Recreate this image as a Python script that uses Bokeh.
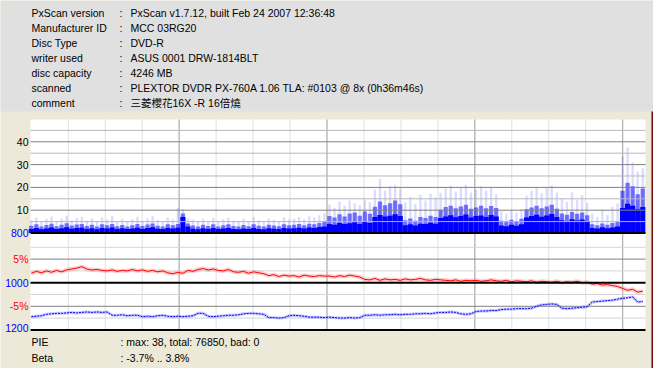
from bokeh.plotting import figure
from bokeh.models import Range1d, Label, BoxAnnotation, ColumnDataSource
from bokeh.embed import file_html
from bokeh.resources import INLINE

# ---------------- data ----------------
header_keys = ["PxScan version", "Manufacturer ID", "Disc Type", "writer used",
               "disc capacity", "scanned", "comment"]
header_vals = ["PxScan v1.7.12, built Feb 24 2007 12:36:48", "MCC 03RG20", "DVD-R",
               "ASUS 0001 DRW-1814BLT", "4246 MB",
               "PLEXTOR DVDR PX-760A 1.06 TLA: #0103 @ 8x (0h36m46s)",
               "三菱櫻花16X -R  16倍燒"]
footer_keys = ["PIE", "Beta"]
footer_vals = [": max: 38, total: 76850, bad: 0", ": -3.7% .. 3.8%"]

# sample positions along the disc (MB)
pos_mb = list(range(0, 4236, 35))

# PIE: solid core level, medium-density level, peak level
pie_core = [1.8, 2.2, 1.6, 2.0, 2.4, 1.7, 2.1, 2.5, 1.9, 2.2,
            2.3, 1.8, 2.1, 1.6, 2.2, 2.0, 2.4, 1.8, 2.1, 1.7,
            2.0, 2.3, 1.8, 2.2, 2.5, 1.9, 1.7, 2.2, 2.0, 2.3,
            7.0, 2.8,
            1.9, 1.6, 2.1, 1.8, 2.2, 1.7, 2.0, 2.2, 1.8, 1.6,
            2.0, 1.7, 2.2, 1.8, 1.6, 2.1, 1.9, 1.7, 2.2, 2.0,
            2.1, 2.3, 2.0, 2.4, 2.2, 2.6, 2.9,
            4.0, 3.6, 4.4, 3.9, 4.3, 4.7, 4.0, 4.9, 4.4,
            7.0, 7.9, 7.2, 7.6, 8.2, 7.4,
            3.4, 3.8, 3.3, 4.1, 3.9, 4.5, 4.1,
            6.6, 7.2, 7.8, 6.9, 7.5, 8.1, 6.8, 7.4, 7.7, 7.0, 7.9, 7.2,
            3.3, 3.0, 3.6, 3.2, 3.8,
            6.8, 7.4, 8.0, 7.1, 7.7, 8.3, 7.0,
            5.6, 5.2, 6.0, 5.5, 5.9, 5.1,
            2.2, 2.0, 2.5, 2.1, 2.4, 2.9,
            11.0, 12.8, 12.0, 10.4, 11.4]
pie_mid = [3.2, 3.8, 2.9, 3.5, 4.1, 3.0, 3.6, 4.3, 3.3, 3.7,
           3.9, 3.1, 3.6, 2.8, 3.8, 3.4, 4.0, 3.0, 3.5, 2.9,
           3.4, 3.9, 3.1, 3.7, 4.2, 3.2, 2.9, 3.8, 3.4, 3.9,
           8.5, 4.2,
           3.3, 2.8, 3.6, 3.1, 3.8, 2.9, 3.4, 3.8, 3.1, 2.8,
           3.5, 3.0, 3.8, 3.2, 2.8, 3.6, 3.3, 3.0, 3.8, 3.4,
           3.6, 3.9, 3.4, 4.1, 3.8, 4.4, 5.0,
           7.5, 6.8, 8.2, 7.2, 8.6, 9.0, 7.6, 9.4, 8.4,
           11.5, 13.8, 12.2, 13.0, 14.2, 12.6,
           5.6, 6.4, 5.4, 7.0, 6.6, 7.6, 7.0,
           10.2, 11.4, 12.0, 10.8, 11.6, 12.4, 10.6, 11.2, 12.0, 10.9, 11.8, 11.0,
           5.4, 4.9, 5.8, 5.2, 6.2,
           10.4, 11.2, 12.0, 10.8, 11.6, 12.4, 10.6,
           8.6, 8.0, 9.2, 8.4, 9.0, 7.8,
           3.8, 3.4, 4.2, 3.6, 4.4, 5.0,
           18.5, 22.0, 20.5, 17.0, 19.5]
pie_peak = [5.5, 6.8, 4.9, 6.2, 7.2, 5.1, 6.4, 7.6, 5.6, 6.6,
            7.0, 5.4, 6.3, 4.8, 6.9, 5.9, 7.4, 5.2, 6.2, 5.0,
            6.0, 7.1, 5.3, 6.5, 7.6, 5.6, 5.0, 6.8, 6.0, 11.0,
            10.5, 6.4,
            5.8, 4.8, 6.3, 5.4, 6.7, 5.0, 6.0, 6.8, 5.5, 4.9,
            6.2, 5.2, 6.9, 5.6, 4.8, 6.4, 5.8, 5.2, 6.9, 6.0,
            6.3, 7.0, 6.0, 7.3, 6.8, 7.8, 8.5,
            12.5, 11.0, 13.8, 12.0, 14.2, 13.0, 12.2, 14.8, 13.5,
            19.0, 23.8, 18.5, 20.5, 21.0, 19.5,
            13.5, 15.8, 12.6, 16.8, 14.2, 17.2, 15.6,
            17.5, 19.5, 20.8, 18.2, 19.8, 21.2, 17.8, 19.0, 20.5, 18.6, 20.2, 17.0,
            9.5, 8.4, 10.2, 9.0, 10.5,
            16.5, 18.5, 20.2, 17.4, 19.6, 20.8, 17.8,
            15.2, 13.6, 17.8, 14.4, 16.6, 13.2,
            8.5, 7.0, 10.2, 8.0, 11.5, 13.0,
            33.5, 37.5, 31.0, 27.0, 28.5]

# Beta (%)
beta = [2.0, 2.4, 2.1, 2.5, 2.2, 2.6, 2.3,
        2.7, 2.9, 3.1, 3.4,
        2.9, 2.7, 2.8, 2.6, 2.5, 2.7,
        2.4, 2.6, 2.5,
        2.8, 2.5, 2.7, 2.4, 2.6, 2.3, 2.5,
        2.1, 1.9, 2.2, 2.0,
        2.6, 2.4, 2.8, 3.0, 2.7, 2.9, 2.6, 2.5, 2.8, 2.3,
        2.2, 2.4, 2.0, 2.3, 2.1, 1.9,
        1.5, 1.7, 1.3, 1.6, 1.4, 1.5, 1.2, 1.6, 1.4, 1.3, 1.5, 1.4,
        1.4, 1.2, 1.5, 1.3, 1.6, 1.4, 1.2,
        0.7, 0.6, 0.9, 0.5, 0.8, 0.6, 0.7, 0.5, 0.8, 0.6, 0.7, 0.9, 0.6, 0.5, 0.7, 0.6,
        0.5, 0.4, 0.6, 0.3, 0.5, 0.4, 0.5, 0.3, 0.4, 0.6, 0.4, 0.3, 0.5, 0.2, 0.4,
        0.3, 0.2, 0.4, 0.1, 0.3, 0.2, 0.1, 0.3, 0.0, 0.2, 0.1, 0.3, 0.0, 0.1,
        -0.3, -0.2, -0.5, -0.4, -0.6, -0.8,
        -1.2, -1.6, -1.4, -2.0, -1.8]
# Jitter trace (%)
jitter = [-7.2, -7.1, -7.0,
          -6.7, -6.6, -6.5, -6.5, -6.4,
          -6.3, -6.4, -6.3, -6.2, -6.3, -6.2, -6.3, -6.2,
          -6.9, -6.9, -6.8, -7.0, -6.9, -6.9,
          -7.2, -7.1, -7.2, -7.0, -6.9, -7.1, -7.2, -7.1, -7.2, -7.1, -7.0,
          -6.5, -6.5,
          -7.1, -7.2, -7.1, -7.0, -6.9, -6.9,
          -6.8, -6.6, -6.5, -6.5, -6.6, -6.7,
          -7.4, -7.4, -7.5, -7.4,
          -7.0, -6.9, -7.0, -7.1,
          -7.3, -7.3, -7.3, -7.4, -7.3, -7.4, -7.5, -7.5, -7.4, -7.5, -7.4,
          -6.9, -6.9, -6.8, -6.9, -6.8, -6.8, -6.7, -6.8, -6.7, -6.7, -6.6, -6.6, -6.5, -6.6,
          -6.4, -6.3, -6.3, -6.2, -6.3,
          -6.6, -6.7, -6.6,
          -6.1, -6.0, -6.0, -5.9, -5.9,
          -5.7, -5.6, -5.6, -5.5, -5.5, -5.5, -5.4,
          -5.0, -4.7, -4.6, -4.5, -4.6,
          -5.4, -5.5, -5.4, -5.3, -5.2, -5.1,
          -4.1, -4.0, -3.9, -3.8, -3.7, -3.5,
          -3.3, -3.2, -3.0,
          -4.1, -4.0]

# axis label texts / grid values
pie_tick_vals = [10, 20, 30, 40]
pie_minor_vals = [5, 15, 25, 35, 45]
beta_tick_vals = [5, -5]
beta_minor_vals = [7.5, 2.5, -2.5, -7.5]
blue_tick_text = ["800", "1000", "1200"]
x_grid_mb = [256 * k for k in range(1, 17)]
x_major_mb = [1024, 2048, 3072, 4096]

# ---------------- styles / layout ----------------
FONT = "Liberation Sans"
FS = "10.5px"
HEADER_BG = "#e0e0e0"
BEIGE = "#ece9d8"
W, H = 653, 368
PL, PR, PT, PB = 30, 645, 119, 330      # plot area (canvas px)

p = figure(width=W, height=H, x_range=Range1d(0, W), y_range=Range1d(H, 0),
           x_axis_type=None, y_axis_type=None, toolbar_location=None,
           output_backend="svg", title=None, min_border=0,
           background_fill_color=BEIGE, border_fill_color=BEIGE,
           outline_line_color=None)
# data ranges mapped onto the canvas
p.extra_x_ranges = {"mb": Range1d(-213.3, 4309.4)}
p.extra_y_ranges = {"pie": Range1d(-59.43, 101.97), "beta": Range1d(-18.18, 59.79)}

# background panels
p.add_layout(BoxAnnotation(left=0, right=W, top=0, bottom=111, fill_color=HEADER_BG,
                           fill_alpha=1, line_color=None, level="underlay"))
p.add_layout(BoxAnnotation(left=PL, right=PR, top=PT, bottom=PB, fill_color="white",
                           fill_alpha=1, line_color=None, level="underlay"))
p.add_layout(BoxAnnotation(left=651, right=653, top=111, bottom=H, fill_color="#6e0a0a",
                           fill_alpha=1, line_color=None, level="underlay"))

# vertical grid
p.segment(x0=x_grid_mb, x1=x_grid_mb, y0=[PT] * len(x_grid_mb), y1=[PB] * len(x_grid_mb),
          x_range_name="mb", line_color="#e0e0e0", line_width=1)
p.segment(x0=x_major_mb, x1=x_major_mb, y0=[PT] * 4, y1=[PB] * 4,
          x_range_name="mb", line_color="#a8a8a8", line_width=1)

src = ColumnDataSource(dict(x=pos_mb, core=pie_core, mid=pie_mid, peak=pie_peak,
                            beta=beta, jitter=jitter))
p.vbar(x="x", top="peak", bottom=0, width=16, source=src, x_range_name="mb",
       y_range_name="pie", fill_color="#0000ff", fill_alpha=0.14, line_color=None)
p.vbar(x="x", top="mid", bottom=0, width=30, source=src, x_range_name="mb",
       y_range_name="pie", fill_color="#0000ff", fill_alpha=0.52, line_color=None)
p.vbar(x="x", top="core", bottom=0, width=36, source=src, x_range_name="mb",
       y_range_name="pie", fill_color="#0000ff", fill_alpha=1.0, line_color=None)


def hlines(vals, rng, color, width=1):
    p.segment(x0=[PL] * len(vals), x1=[PR] * len(vals), y0=vals, y1=vals,
              y_range_name=rng, line_color=color, line_width=width)


hlines(pie_minor_vals, "pie", "#b8b8b8")
hlines(pie_tick_vals, "pie", "#808080")
hlines(beta_minor_vals, "beta", "#d4d4d4")
hlines(beta_tick_vals, "beta", "#808080")

# beta and jitter traces
p.line(x="x", y="beta", source=src, x_range_name="mb", y_range_name="beta",
       line_color="#ff9090", line_width=4, line_alpha=0.45)
p.line(x="x", y="beta", source=src, x_range_name="mb", y_range_name="beta",
       line_color="#ff0000", line_width=1)
p.line(x="x", y="jitter", source=src, x_range_name="mb", y_range_name="beta",
       line_color="#9090ff", line_width=3, line_alpha=0.5)
p.line(x="x", y="jitter", source=src, x_range_name="mb", y_range_name="beta",
       line_color="#0000ff", line_width=1, line_dash="2 1")

# black baselines
hlines([0], "pie", "black", 2)
hlines([0], "beta", "black", 2)
hlines([-10], "beta", "black", 2)

# ---------------- texts ----------------
def lab(x, y, text, color="black", align="left", rng="default", font=FONT):
    p.add_layout(Label(x=x, y=y, y_range_name=rng, text=text, text_font=font,
                       text_font_size=FS, text_align=align, text_baseline="middle",
                       text_color=color))


for k, (key, val) in enumerate(zip(header_keys, header_vals)):
    yy = 12.5 + 15 * k
    lab(31, yy, key)
    lab(119, yy, ":")
    lab(130, yy, val, font=FONT + ", Noto Sans CJK TC")

LX = 28
for v in pie_tick_vals:
    lab(LX, v, str(v), align="right", rng="pie")
lab(LX, 0, blue_tick_text[0], color="#0000ff", align="right", rng="pie")
for v in beta_tick_vals:
    lab(LX, v, f"{v}%", color="#ff0000", align="right", rng="beta")
lab(LX, 0, blue_tick_text[1], color="#0000ff", align="right", rng="beta")
lab(LX, 327.7, blue_tick_text[2], color="#0000ff", align="right")

for k, (key, val) in enumerate(zip(footer_keys, footer_vals)):
    yy = 341.7 + 15.6 * k
    lab(31, yy, key)
    lab(120, yy, val)

open("out.html", "w").write(file_html(p, INLINE))
